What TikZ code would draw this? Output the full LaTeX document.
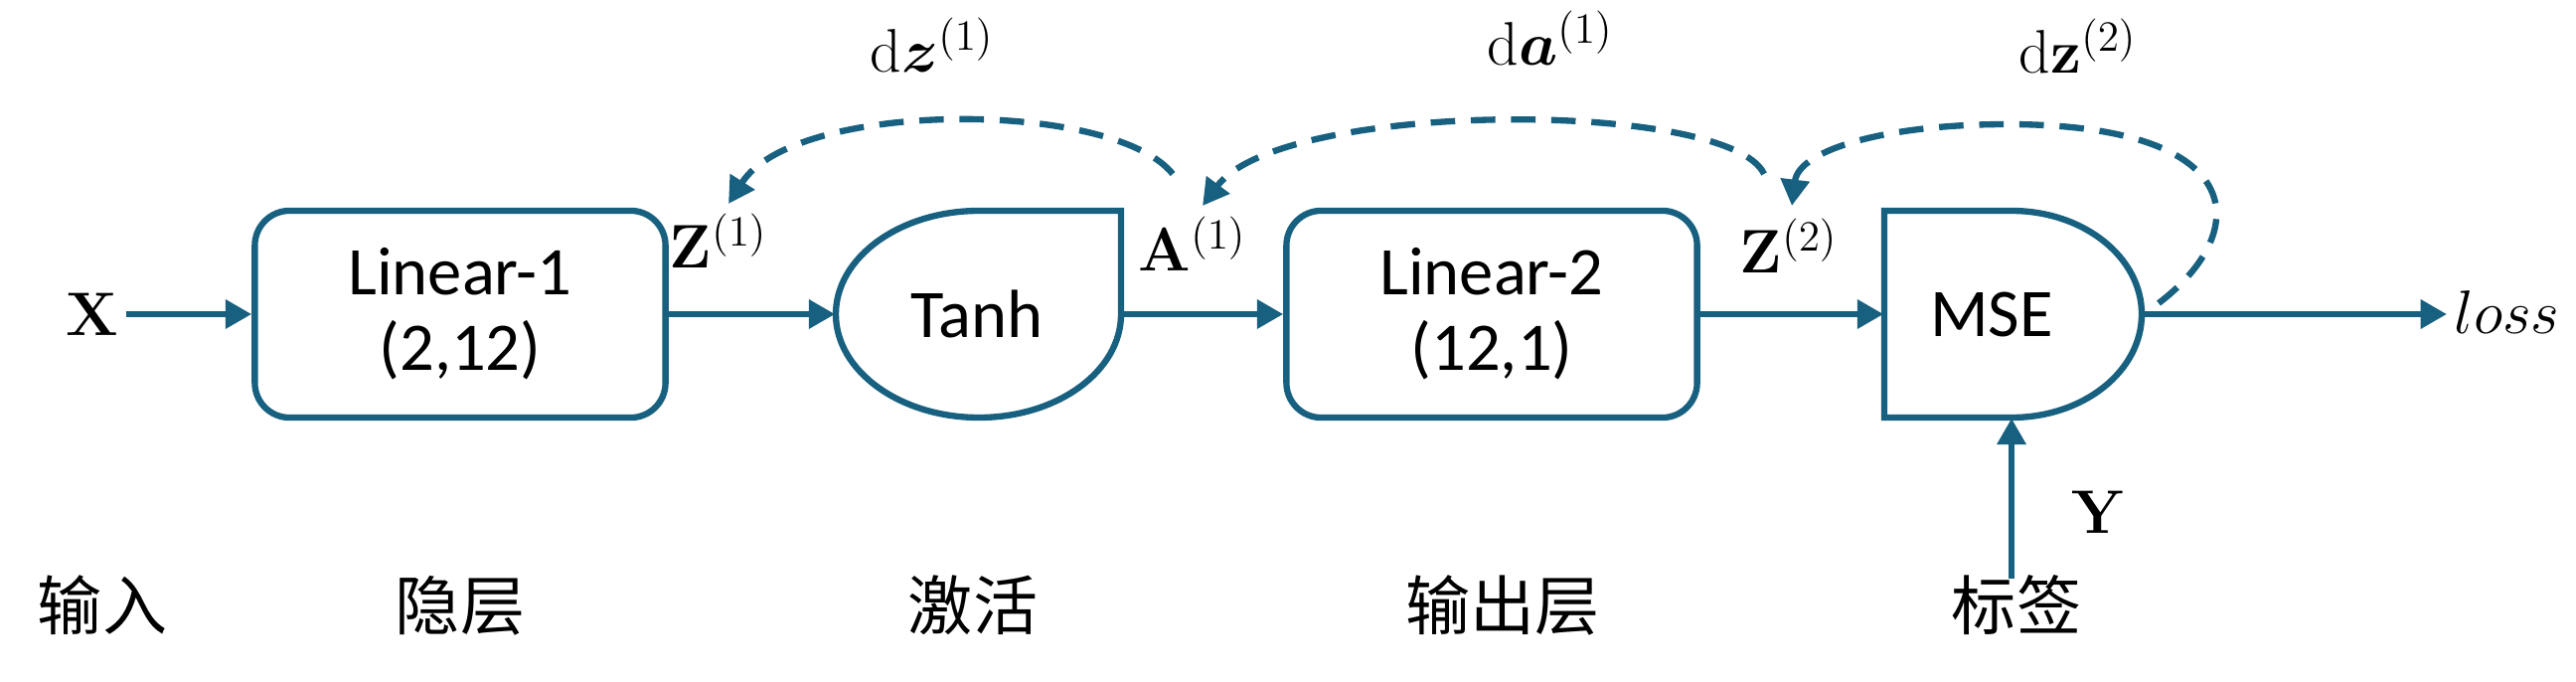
\RequirePackage{fix-cm}
\documentclass[tikz,border=0pt]{standalone}
\usepackage{amsmath}
\usepackage[no-math]{fontspec}
\setmainfont{Carlito}
\newfontfamily\cjk{Noto Sans CJK SC}
\usetikzlibrary{arrows.meta}
\definecolor{lc}{RGB}{24,96,128}
\begin{document}
\begin{tikzpicture}[x=0.01cm,y=-0.01cm,
  conn/.style={draw=lc, line width=1.8pt, -{Triangle[length=7.5pt,width=8pt]}},
  back/.style={conn, dash pattern=on 7pt off 4.5pt},
  blk/.style={draw=lc, line width=1.8pt, rounded corners=0.35cm, minimum width=4.13cm, minimum height=2.08cm, align=center, font=\fontsize{19.5}{21.6}\selectfont},
  ghost/.style={minimum height=2.08cm, inner sep=0pt},
  shp/.style={draw=lc, line width=1.8pt},
  txt/.style={font=\fontsize{19.5}{24}\selectfont},
  lab/.style={inner sep=2pt, font=\fontsize{17.6}{21}\selectfont},
  cn/.style={font=\cjk\fontsize{18.5}{22}\selectfont}
]
\useasboundingbox (0,0) rectangle (2592,685);

% blocks
\node[blk] (lin1) at (463,316) {Linear-1\\(2,12)};
\draw[shp] (1128,212) -- (1128,316)
  .. controls (1128,373.4) and (1064,420) .. (985,420)
  .. controls (906,420) and (841,373.4) .. (841,316)
  .. controls (841,258.6) and (906,212) .. (985,212) -- cycle;
\node[ghost, minimum width=2.87cm] (tanh) at (984.5,316) {};
\node[txt] (tanhl) at (983,316) {Tanh};
\node[blk] (lin2) at (1501,316) {Linear-2\\(12,1)};
\draw[shp] (2024,212) -- (1896,212) -- (1896,420) -- (2024,420)
  .. controls (2096.4,420) and (2155,373.4) .. (2155,316)
  .. controls (2155,258.6) and (2096.4,212) .. (2024,212) -- cycle;
\node[ghost, minimum width=2.59cm] (mse) at (2025.5,316) {};
\node[txt] (msel) at (2004,316) {MSE};

% labels
\node[lab] (X) at (93,316) {$\mathbf{X}$};
\node[lab] (Z1) at (723,242) {$\mathbf{Z}^{(1)}$};
\node[lab] (A1) at (1200,245) {$\mathbf{A}^{(1)}$};
\node[lab] (Z2) at (1800,247) {$\mathbf{Z}^{(2)}$};
\node[lab, anchor=west] (loss) at (2462,314) {$loss$};
\node[lab] (Y) at (2112,515) {$\mathbf{Y}$};
\node[lab] (dz1) at (938,45) {$\mathrm{d}\boldsymbol{z}^{(1)}$};
\node[lab] (da1) at (1560,38) {$\mathrm{d}\boldsymbol{a}^{(1)}$};
\node[lab] (dz2) at (2091,46) {$\mathrm{d}\mathbf{z}^{(2)}$};

% chinese captions
\node[cn] (c1) at (103,609) {输入};
\node[cn] (c2) at (463,609) {隐层};
\node[cn] (c3) at (979,609) {激活};
\node[cn] (c4) at (1512,609) {输出层};
\node[cn] (c5) at (2029,609) {标签};

% forward connectors
\draw[conn] (X) -- (lin1);
\draw[conn] (lin1) -- (tanh);
\draw[conn] (tanh) -- (lin2);
\draw[conn] (lin2) -- (mse);
\draw[conn] (mse.east) -- (mse.east -| loss.west);
\coordinate (ybot) at (2024,582);
\draw[conn] (ybot) -- (ybot |- mse.south);

% backward (dashed) connectors
\coordinate (a1s) at (1180,175);
\coordinate (z1e) at (733,205);
\draw[back] (a1s) .. controls (1120,100) and (800,100) .. (z1e);
\coordinate (z2s) at (1775,175);
\coordinate (a1e) at (1210,207);
\draw[back] (z2s) .. controls (1740,100) and (1290,100) .. (a1e);
\coordinate (mses) at (2172,305);
\coordinate (z2e) at (1803,207);
\draw[back] (mses) .. controls (2270,230) and (2260,125) .. (2019,125)
  .. controls (1900,125) and (1810,150) .. (z2e);
\end{tikzpicture}
\end{document}
